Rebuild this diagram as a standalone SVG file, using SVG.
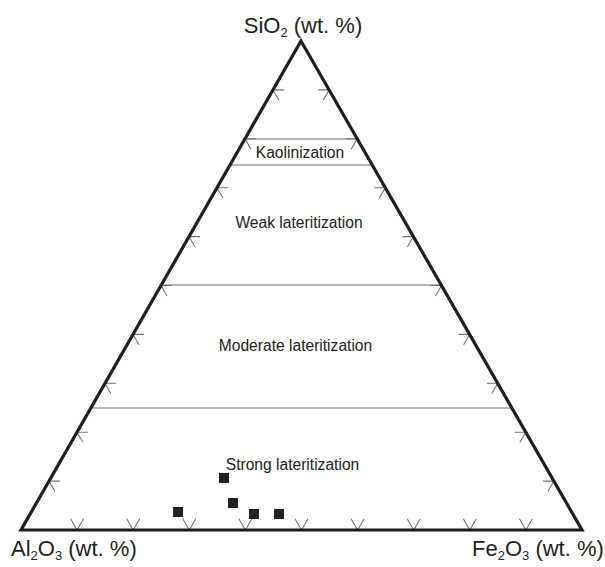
<svg xmlns="http://www.w3.org/2000/svg" width="605" height="567" viewBox="0 0 605 567">
<style>
.tri{fill:none;stroke:#1e1e1e;stroke-width:3.2;stroke-linejoin:miter}
.tick{fill:none;stroke:#727272;stroke-width:1.1}
.zone{fill:none;stroke:#6e6e6e;stroke-width:1.1}
.lbl{font-family:"Liberation Sans",Arial,sans-serif;fill:#222}
.ax{font-size:22px}
.zn{font-size:15.6px;text-anchor:middle}
.pt{fill:#222}
</style>
<rect width="605" height="567" fill="#ffffff"/>
<g id="zones">
<line class="zone" x1="245" y1="139" x2="357.3" y2="139"/>
<line class="zone" x1="230" y1="165" x2="372.3" y2="165"/>
<line class="zone" x1="161.3" y1="285" x2="441.2" y2="285"/>
<line class="zone" x1="90.9" y1="408" x2="511.9" y2="408"/>
</g>
<g id="ticks" class="tick">
<path d="M49,481.1h11M49,481.1l6,10.4M77,432.2h11M77,432.2l6,10.4M105,383.3h11M105,383.3l6,10.4M133,334.4h11M133,334.4l6,10.4M161,285.5h11M161,285.5l6,10.4M189,236.6h11M189,236.6l6,10.4M217,187.7h11M217,187.7l6,10.4M245,138.8h11M245,138.8l6,10.4M273,89.9h11M273,89.9l6,10.4"/>
<path d="M553.9,481.1h-11M553.9,481.1l-6,10.4M525.8,432.2h-11M525.8,432.2l-6,10.4M497.7,383.3h-11M497.7,383.3l-6,10.4M469.6,334.4h-11M469.6,334.4l-6,10.4M441.5,285.5h-11M441.5,285.5l-6,10.4M413.4,236.6h-11M413.4,236.6l-6,10.4M385.3,187.7h-11M385.3,187.7l-6,10.4M357.2,138.8h-11M357.2,138.8l-6,10.4M329.1,89.9h-11M329.1,89.9l-6,10.4"/>
<path d="M70.6,518.7L77.1,530L83.6,518.7M126.7,518.7L133.2,530L139.7,518.7M182.8,518.7L189.3,530L195.8,518.7M238.9,518.7L245.4,530L251.9,518.7M295,518.7L301.5,530L308,518.7M351.1,518.7L357.6,530L364.1,518.7M407.2,518.7L413.7,530L420.2,518.7M463.3,518.7L469.8,530L476.3,518.7M519.4,518.7L525.9,530L532.4,518.7"/>
</g>
<g id="triangle">
<path class="tri" d="M301,41L582,530L21,530Z"/>
</g>
<g id="axis-labels" class="lbl ax">
<text id="label-sio2" x="303" y="33" text-anchor="middle">SiO<tspan font-size="13" dy="4">2</tspan><tspan dy="-4"> (wt. %)</tspan></text>
<text id="label-al2o3" x="11" y="556">Al<tspan font-size="13" dy="4">2</tspan><tspan dy="-4">O</tspan><tspan font-size="13" dy="4">3</tspan><tspan dy="-4"> (wt. %)</tspan></text>
<text id="label-fe2o3" x="472" y="556">Fe<tspan font-size="13" dy="4">2</tspan><tspan dy="-4">O</tspan><tspan font-size="13" dy="4">3</tspan><tspan dy="-4"> (wt. %)</tspan></text>
</g>
<g id="zone-labels" class="lbl zn">
<text id="kaolinization" x="300" y="157.5">Kaolinization</text>
<text id="weak" x="299" y="228">Weak lateritization</text>
<text id="moderate" x="295.5" y="350.5">Moderate lateritization</text>
<text id="strong" x="292.5" y="470">Strong lateritization</text>
</g>
<g id="data-points" class="pt">
<rect x="219" y="473" width="10" height="10"/>
<rect x="228" y="498" width="10" height="10"/>
<rect x="173" y="507" width="10" height="10"/>
<rect x="249" y="509" width="10" height="10"/>
<rect x="274" y="509" width="10" height="10"/>
</g>
</svg>
